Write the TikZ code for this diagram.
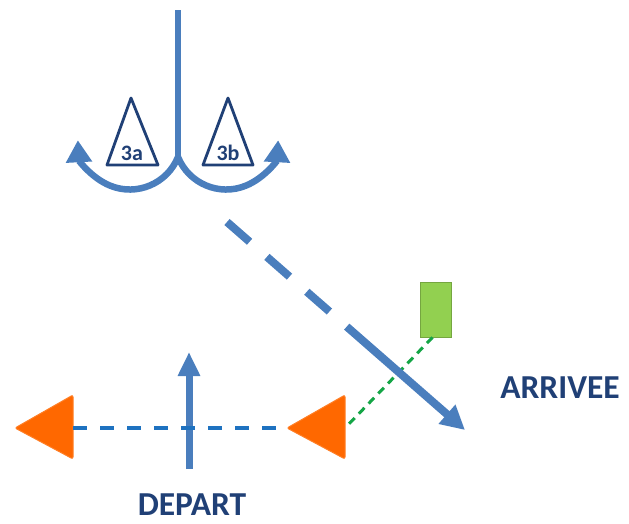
\documentclass[tikz,border=0pt]{standalone}
\usepackage{fontspec}
\setmainfont{Carlito}
\usetikzlibrary{arrows.meta, positioning}

\definecolor{route}{RGB}{74,126,189}
\definecolor{encre}{RGB}{32,64,118}
\definecolor{cone}{RGB}{255,104,0}
\definecolor{ligne}{RGB}{30,114,192}
\definecolor{panneau}{RGB}{146,208,80}
\definecolor{visee}{RGB}{20,165,70}

\begin{document}
\begin{tikzpicture}[
    x=1pt, y=-1pt,
    path/.style={draw=route, line width=6.5pt},
    tip/.style={-{Triangle[width=25pt, length=22pt]}},
    label/.style={text=encre, font=\bfseries\fontsize{33.5}{36}\selectfont, inner sep=0pt},
    balise/.style={draw=encre, line width=2.8pt, fill=white, line join=round},
    plot/.style={fill=cone, draw=cone!85!white, line width=1pt, rounded corners=2pt}
]
\useasboundingbox (0,0) rectangle (629,523);

% Top: fork with the two turns
\coordinate (top) at (178,10);
\coordinate (fork) at (178,157);
\draw[path, line width=5.5pt] (top) -- (fork);
\draw[path, tip] (fork) arc[start angle=22, end angle=177, radius=52];
\draw[path, tip] (fork) arc[start angle=158, end angle=3, radius=52];

% Markers 3a and 3b
\draw[balise] (107,165) -- (131,98) -- (158,165) -- cycle;
\draw[balise] (203,165) -- (228,98) -- (253,165) -- cycle;
\node[text=encre, font=\bfseries\fontsize{22}{24}\selectfont] (m3a) at (132,153) {3a};
\node[text=encre, font=\bfseries\fontsize{22}{24}\selectfont] (m3b) at (228,153) {3b};

% Cones
\draw[plot] (15,428) -- (73,395) -- (73,459) -- cycle;
\draw[plot] (287,428) -- (345,395) -- (345,459) -- cycle;
\coordinate (coneL) at (73,428);
\coordinate (coneR) at (287,428);
\coordinate (coneRside) at (345,428);

% Start
\coordinate (depbas) at (189,469);
\coordinate (dephaut) at (189,352);
\draw[path, line width=7pt, -{Triangle[width=21pt, length=24pt]}] (depbas) -- (dephaut);
\draw[ligne, line width=3.5pt, dash pattern=on 14pt off 13pt] (coneL) -- (coneR);
\node[label] (depart) at (192,505) {DEPART};

% Sign and sight line
\node[fill=panneau, draw=panneau!80!black, line width=0.8pt, minimum width=31pt, minimum height=55pt, inner sep=0pt] (sign) at (435.5,309.5) {};
\draw[visee, line width=3pt, dash pattern=on 8pt off 6pt] (sign.south) ++(-3,0) -- (coneRside);

% Arrival
\coordinate (diag) at (227,222);
\coordinate (arr) at (465,430);
\draw[path, line width=8pt, dash pattern=on 30pt off 23pt on 30pt off 23pt on 30pt off 23pt on 400pt off 1pt, -{Triangle[width=24pt, length=24pt]}] (diag) -- (arr);
\node[label] (arrivee) at (560,388) {ARRIVEE};

\end{tikzpicture}
\end{document}
